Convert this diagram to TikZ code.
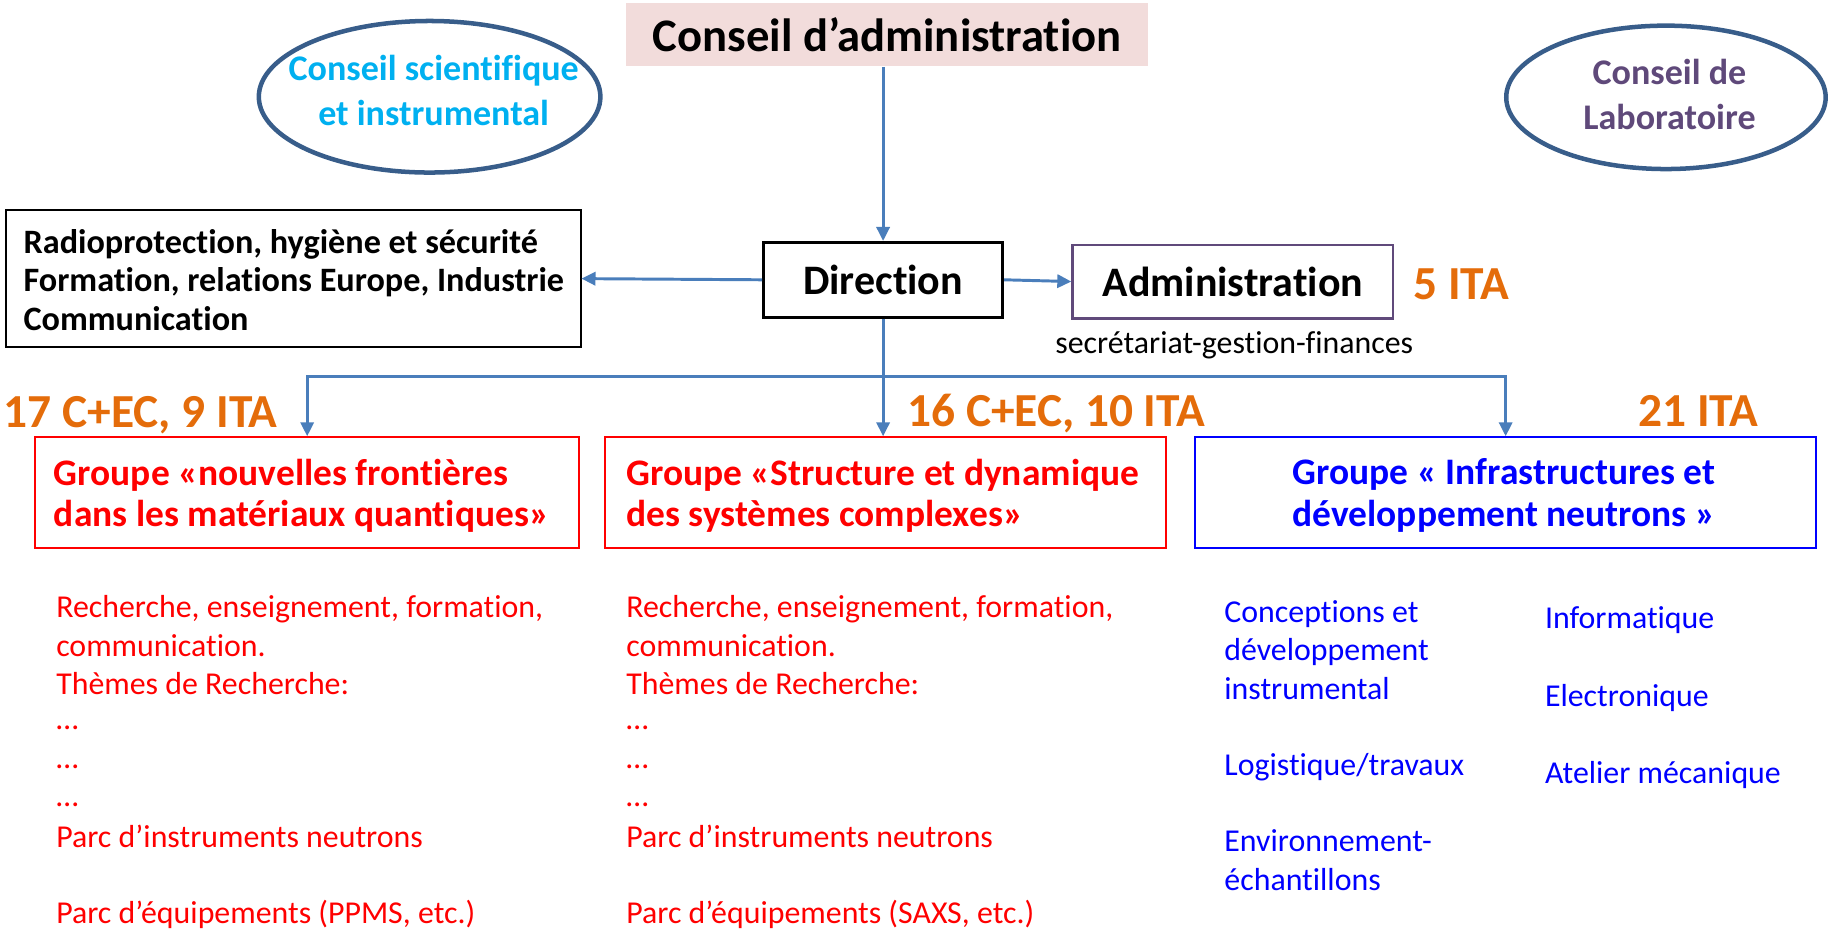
\documentclass[tikz,border=0pt]{standalone}
\usepackage{fontspec}
\setmainfont[Ligatures=NoCommon]{Carlito}
\usetikzlibrary{shapes.geometric,arrows.meta}
\definecolor{arr}{HTML}{4A7EBB}
\definecolor{orng}{HTML}{E46C0A}
\definecolor{cyanT}{HTML}{00B0F0}
\definecolor{purpT}{HTML}{5F497A}
\definecolor{purpB}{HTML}{604A7B}
\definecolor{ellB}{HTML}{385D8A}
\definecolor{pinkF}{HTML}{F2DCDB}
\definecolor{redT}{HTML}{FF0000}
\definecolor{blueT}{HTML}{0000FF}
\begin{document}
\begin{tikzpicture}[x=0.75pt,y=-0.75pt,
  conn/.style={draw=arr,line width=1.9pt,-{Triangle[length=9pt,width=8.5pt]}},
  count/.style={anchor=base west,inner sep=0,text=orng,font=\fontsize{30.5}{34}\selectfont\bfseries},
  body/.style={anchor=base west,inner sep=0,font=\fontsize{20.5}{24.6}\selectfont},
  grp/.style={draw,line width=1.2pt,minimum height=71.25pt,inner sep=0},
  grptext/.style={inner sep=0,font=\fontsize{24.1}{26.5}\selectfont\bfseries},
  ell/.style={ellipse,draw=ellB,line width=2.9pt,inner sep=0},
  elltext/.style={align=center,inner sep=0,font=\fontsize{23.2}{29}\selectfont\bfseries}]
\useasboundingbox (0,0) rectangle (1568,799);

% Conseil d'administration
\node[fill=pinkF,minimum width=336pt,minimum height=40.5pt,inner sep=0,
      font=\fontsize{30}{36}\selectfont\bfseries] (ca) at (761,30) {Conseil d’administration};

% ellipses
\node[ell,minimum width=219.75pt,minimum height=97.5pt] (cs) at (368.5,83) {};
\node[elltext,text=cyanT] (cst) at (372,78) {Conseil scientifique\\et instrumental};
\node[ell,minimum width=205.5pt,minimum height=92.25pt] (cl) at (1429,83.5) {};
\node[elltext,text=purpT] (clt) at (1432,81) {Conseil de\\Laboratoire};

% Direction and Administration
\node[draw=black,line width=2pt,minimum width=153.75pt,minimum height=48pt,inner sep=0,
      font=\fontsize{27}{32}\selectfont\bfseries] (dir) at (757.5,240) {Direction};
\node[draw=purpB,line width=1.6pt,minimum width=206.25pt,minimum height=47.25pt,inner sep=0,
      font=\fontsize{27}{32}\selectfont\bfseries] (adm) at (1057.5,241.5) {Administration};
\node[count] (ita5) at (1212,257) {5 ITA};
\node[anchor=west,inner sep=0,font=\fontsize{20.5}{24}\selectfont] (sec) at (905,296) {secrétariat-gestion-finances};

% left box
\node[draw=black,line width=1.2pt,minimum width=369.75pt,minimum height=88.5pt,inner sep=0] (rad) at (251.5,239) {};
\node[anchor=west,inner sep=0,align=left,font=\fontsize{22}{24.75}\selectfont\bfseries] (radt) at (20,240)
      {Radioprotection, hygiène et sécurité\\Formation, relations Europe, Industrie\\Communication};

% groups
\node[grp,draw=redT,minimum width=350.25pt] (g1) at (263.5,422.5) {};
\node[grptext,text=redT,anchor=west,align=left] (g1t) at (46,425) {Groupe «nouvelles frontières\\dans les matériaux quantiques»};
\node[grp,draw=redT,minimum width=360.75pt] (g2) at (759.5,422.5) {};
\node[grptext,text=redT,anchor=west,align=left] (g2t) at (537,425) {Groupe «Structure et dynamique\\des systèmes complexes»};
\node[grp,draw=blueT,minimum width=399.75pt] (g3) at (1291.5,422.5) {};
\node[grptext,text=blueT,align=center] (g3t) at (1290,425) {Groupe « Infrastructures et\\développement neutrons »};

% counts
\node[count] (c1) at (3,367) {17 C+EC, 9 ITA};
\node[count] (c2) at (778,366) {16 C+EC, 10 ITA};
\node[count] (c3) at (1405,366) {21 ITA};

% connectors
\draw[conn] (dir.north |- ca.south) -- (dir.north);
\draw[conn] (dir.west) -- (rad.east);
\draw[conn] (dir.east) -- (adm.west);
\coordinate (br) at (dir.south |- 0,323);
\draw[conn] (dir.south) -- (dir.south |- g2.north);
\draw[conn] (br) -| (g1.north);
\draw[conn] (br) -| (g3.north);

% body texts group 1 and 2
\begin{scope}[text=redT]
\foreach \xx/\nm in {48/a,537/b}{
  \node[body] (\nm1) at (\xx,530) {Recherche, enseignement, formation,};
  \node[body] (\nm2) at (\xx,562.8) {communication.};
  \node[body] (\nm3) at (\xx,595.6) {Thèmes de Recherche:};
  \node[body] (\nm4) at (\xx,626) {…};
  \node[body] (\nm5) at (\xx,659) {…};
  \node[body] (\nm6) at (\xx,692) {…};
  \node[body] (\nm7) at (\xx,726.8) {Parc d’instruments neutrons};
}
\node[body] (a8) at (48,792.4) {Parc d’équipements (PPMS, etc.)};
\node[body] (b8) at (537,792.4) {Parc d’équipements (SAXS, etc.)};
\end{scope}

% body texts group 3
\begin{scope}[text=blueT]
\node[body] (d1) at (1050,534) {Conceptions et};
\node[body] (d2) at (1050,566.8) {développement};
\node[body] (d3) at (1050,599.6) {instrumental};
\node[body] (d4) at (1050,665.2) {Logistique/travaux};
\node[body] (d5) at (1050,730.8) {Environnement-};
\node[body] (d6) at (1050,763.6) {échantillons};
\node[body] (e1) at (1325,539) {Informatique};
\node[body] (e2) at (1325,606) {Electronique};
\node[body] (e3) at (1325,672) {Atelier mécanique};
\end{scope}
\end{tikzpicture}
\end{document}
